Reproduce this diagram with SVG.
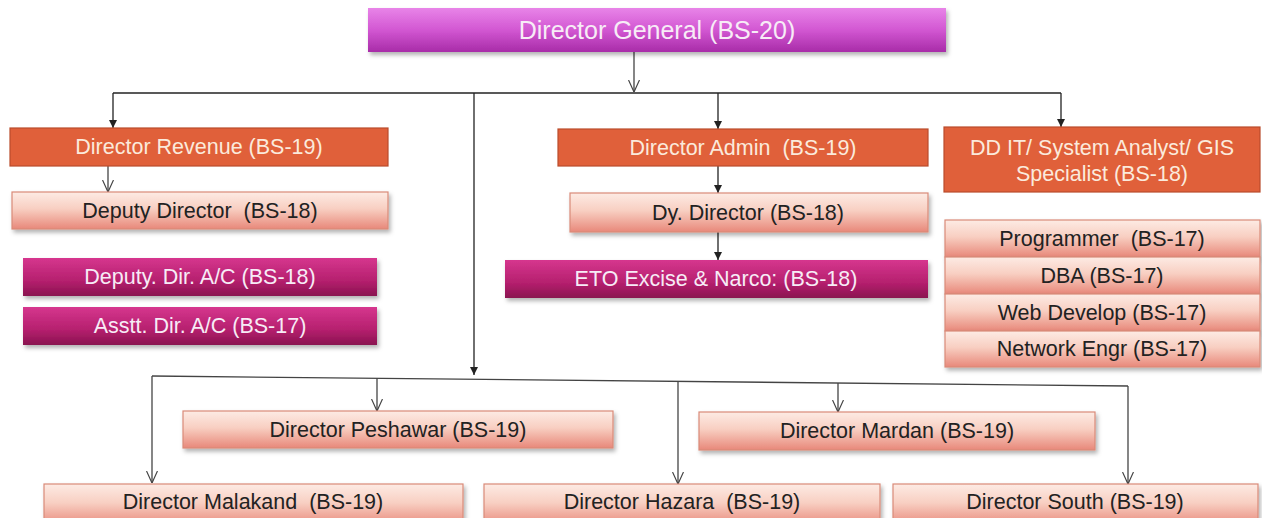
<svg xmlns="http://www.w3.org/2000/svg" width="1262" height="518" viewBox="0 0 1262 518">
<defs>
<linearGradient id="gDG" x1="0" y1="0" x2="0" y2="1"><stop offset="0" stop-color="#e884e8"/><stop offset="0.5" stop-color="#d257d2"/><stop offset="1" stop-color="#a82ca8"/></linearGradient>
<linearGradient id="gSal" x1="0" y1="0" x2="0" y2="1"><stop offset="0" stop-color="#fdebe4"/><stop offset="0.45" stop-color="#f8cfc2"/><stop offset="1" stop-color="#e8887a"/></linearGradient>
<linearGradient id="gMag" x1="0" y1="0" x2="0" y2="1"><stop offset="0" stop-color="#d6368e"/><stop offset="0.6" stop-color="#b5206e"/><stop offset="1" stop-color="#8a1250"/></linearGradient>
<filter id="sh" x="-5%" y="-20%" width="110%" height="160%"><feDropShadow dx="2" dy="3" stdDeviation="2" flood-color="#000" flood-opacity="0.3"/></filter>
<marker id="af" viewBox="0 0 10 10" refX="10" refY="5" markerWidth="8" markerHeight="8" markerUnits="userSpaceOnUse" orient="auto"><path d="M0,0 L10,5 L0,10 z" fill="#222"/></marker>
<marker id="ao" viewBox="0 0 12 12" refX="12" refY="6" markerWidth="12" markerHeight="12" markerUnits="userSpaceOnUse" orient="auto"><path d="M0,0.5 L12,6 L0,11.5" fill="none" stroke="#444" stroke-width="1.2"/></marker>
</defs>
<style>
text{font-family:"Liberation Sans",Arial,sans-serif;font-size:21.5px;text-anchor:middle;dominant-baseline:central;white-space:pre}
.dg{fill:url(#gDG);filter:url(#sh)}
.or{fill:#e0603a;stroke:#b94c2c;stroke-width:1.2}
.sa{fill:url(#gSal);stroke:#d98a78;stroke-width:1.2;filter:url(#sh)}
.mg{fill:url(#gMag);filter:url(#sh)}
.tw{fill:#f7ecf6}
.tc{fill:#fbeadc}
.td{fill:#222}
.c1{fill:none;stroke:#222;stroke-width:1.3}
.c2{fill:none;stroke:#444;stroke-width:1.3}
</style>
<rect width="1262" height="518" fill="#fff"/>
<g id="connectors">
<path class="c2" d="M634,52 V92" marker-end="url(#ao)"/>
<path class="c1" d="M113,93 H1061"/>
<path class="c1" d="M113,93 V128" marker-end="url(#af)"/>
<path class="c1" d="M718,93 V129" marker-end="url(#af)"/>
<path class="c1" d="M1061,93 V127" marker-end="url(#af)"/>
<path class="c1" d="M474,93 V375" marker-end="url(#af)"/>
<path class="c2" d="M108,166 V192" marker-end="url(#ao)"/>
<path class="c1" d="M718,166 V193" marker-end="url(#af)"/>
<path class="c1" d="M718,232 V260" marker-end="url(#af)"/>
<path class="c2" d="M152,376 L1128,386"/>
<path class="c2" d="M152,376 V483" marker-end="url(#ao)"/>
<path class="c2" d="M377,378 V411" marker-end="url(#ao)"/>
<path class="c2" d="M678,381 V484" marker-end="url(#ao)"/>
<path class="c2" d="M838,383 V412" marker-end="url(#ao)"/>
<path class="c2" d="M1128,386 V484" marker-end="url(#ao)"/>
</g>
<g id="dg"><rect class="dg" x="368" y="8" width="578" height="44"/><text class="tw" x="657" y="30" style="font-size:25px">Director General (BS-20)</text></g>
<g id="revenue"><rect class="or" x="10" y="128" width="378" height="38"/><text class="tc" x="199" y="147">Director Revenue (BS-19)</text></g>
<g id="deputy-director"><rect class="sa" x="12" y="192" width="376" height="37"/><text class="td" x="200" y="210.5">Deputy Director  (BS-18)</text></g>
<g id="deputy-dir-ac"><rect class="mg" x="23" y="258" width="354" height="38"/><text class="tw" x="200" y="277">Deputy. Dir. A/C (BS-18)</text></g>
<g id="asstt-dir-ac"><rect class="mg" x="23" y="307" width="354" height="38"/><text class="tw" x="200" y="326">Asstt. Dir. A/C (BS-17)</text></g>
<g id="admin"><rect class="or" x="558" y="129" width="370" height="37"/><text class="tc" x="743" y="147.5">Director Admin  (BS-19)</text></g>
<g id="dy-director"><rect class="sa" x="570" y="193" width="358" height="39"/><text class="td" x="748" y="212.5">Dy. Director (BS-18)</text></g>
<g id="eto"><rect class="mg" x="505" y="260" width="423" height="38"/><text class="tw" x="716" y="279">ETO Excise &amp; Narco: (BS-18)</text></g>
<g id="dd-it"><rect class="or" x="944" y="127" width="316" height="65"/><text class="tc" x="1102" y="148">DD IT/ System Analyst/ GIS</text><text class="tc" x="1102" y="174">Specialist (BS-18)</text></g>
<g id="programmer"><rect class="sa" x="945" y="220" width="315" height="37"/><text class="td" x="1102" y="238.5">Programmer  (BS-17)</text></g>
<g id="dba"><rect class="sa" x="945" y="257" width="315" height="37"/><text class="td" x="1102" y="275.5">DBA (BS-17)</text></g>
<g id="web-develop"><rect class="sa" x="945" y="294" width="315" height="37"/><text class="td" x="1102" y="312.5">Web Develop (BS-17)</text></g>
<g id="network-engr"><rect class="sa" x="945" y="331" width="315" height="36"/><text class="td" x="1102" y="349">Network Engr (BS-17)</text></g>
<g id="peshawar"><rect class="sa" x="183" y="411" width="430" height="37"/><text class="td" x="398" y="429.5">Director Peshawar (BS-19)</text></g>
<g id="mardan"><rect class="sa" x="699" y="412" width="396" height="38"/><text class="td" x="897" y="431">Director Mardan (BS-19)</text></g>
<g id="malakand"><rect class="sa" x="44" y="484" width="419" height="42"/><text class="td" x="253" y="502">Director Malakand  (BS-19)</text></g>
<g id="hazara"><rect class="sa" x="484" y="484" width="396" height="42"/><text class="td" x="682" y="502">Director Hazara  (BS-19)</text></g>
<g id="south"><rect class="sa" x="893" y="484" width="365" height="42"/><text class="td" x="1075" y="502">Director South (BS-19)</text></g>
</svg>
